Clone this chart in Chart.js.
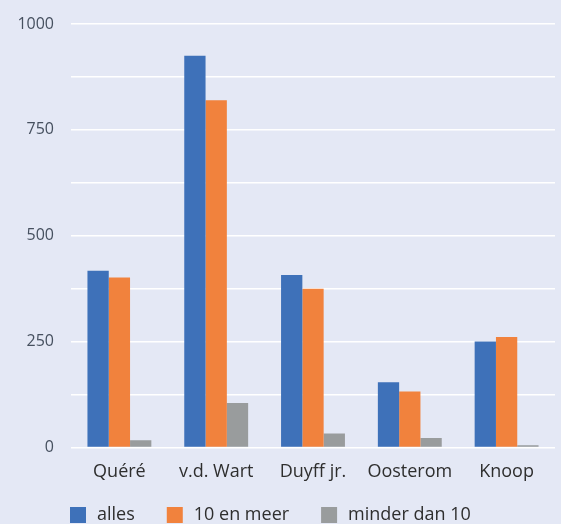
<!DOCTYPE html>
<html>
<head>
<meta charset="utf-8">
<script src="https://cdn.jsdelivr.net/npm/chart.js@4.4.1/dist/chart.umd.min.js"></script>
<style>
    html, body { margin: 0; padding: 0; background: #e4e8f5; }
    #wrap { width: 561px; height: 524px; position: relative; }
</style>
</head>
<body>
<div id="wrap"><canvas id="chart"></canvas></div>
<script>
    // Data
    const categories = ['Quéré', 'v.d. Wart', 'Duyff jr.', 'Oosterom', 'Knoop'];
    const seriesNames = ['alles', '10 en meer', 'minder dan 10'];
    const alles = [417, 925, 407, 154, 250];
    const tienEnMeer = [401, 820, 375, 132, 261];
    const minderDanTien = [17, 105, 33, 22, 5];
    const yTicks = [0, 250, 500, 750, 1000];

    const colors = ['#3e71b9', '#f1823d', '#999c9d'];
    const fontFamily = '"Open Sans", "DejaVu Sans", sans-serif';

    // Legend drawn under the plot, left aligned to the chart area
    const bottomLegend = {
        id: 'bottomLegend',
        afterDraw(chart) {
            const ctx = chart.ctx;
            const area = chart.chartArea;
            let x = area.left - 1;
            const y = 507;
            ctx.save();
            ctx.font = '18px ' + fontFamily;
            ctx.textBaseline = 'middle';
            chart.data.datasets.forEach(function(ds) {
                ctx.fillStyle = ds.backgroundColor;
                ctx.fillRect(x, y, 16, 16);
                ctx.fillStyle = '#2e2e2e';
                const tx = x + 27;
                ctx.fillText(ds.label, tx, y + 8);
                x = tx + ctx.measureText(ds.label).width + 32;
            });
            ctx.restore();
        }
    };

    const ctx = document.getElementById('chart').getContext('2d');
    new Chart(ctx, {
        type: 'bar',
        data: {
            labels: categories,
            datasets: [
                { label: seriesNames[0], data: alles, backgroundColor: colors[0] },
                { label: seriesNames[1], data: tienEnMeer, backgroundColor: colors[1] },
                { label: seriesNames[2], data: minderDanTien, backgroundColor: colors[2] }
            ]
        },
        options: {
            responsive: true,
            maintainAspectRatio: false,
            animation: false,
            barPercentage: 1,
            categoryPercentage: 0.66,
            layout: {
                padding: { top: 24, right: 6, bottom: 35, left: 0 }
            },
            plugins: {
                legend: { display: false },
                tooltip: { enabled: false }
            },
            scales: {
                x: {
                    grid: { display: false },
                    border: { display: false },
                    ticks: {
                        color: '#2e2e2e',
                        padding: 6,
                        font: { family: fontFamily, size: 18 }
                    }
                },
                y: {
                    min: 0,
                    max: 1000,
                    afterFit: function(scale) {
                        scale.width = 71;
                        scale.paddingTop = 0;
                        scale.paddingBottom = 0;
                    },
                    grid: {
                        color: '#ffffff',
                        lineWidth: 1.5,
                        drawTicks: false
                    },
                    border: { display: false },
                    ticks: {
                        stepSize: 125,
                        padding: 17,
                        color: '#46505f',
                        font: { family: fontFamily, size: 16 },
                        callback: function(value) {
                            return yTicks.includes(value) ? String(value) : '';
                        }
                    }
                }
            }
        },
        plugins: [bottomLegend]
    });
</script>
</body>
</html>
